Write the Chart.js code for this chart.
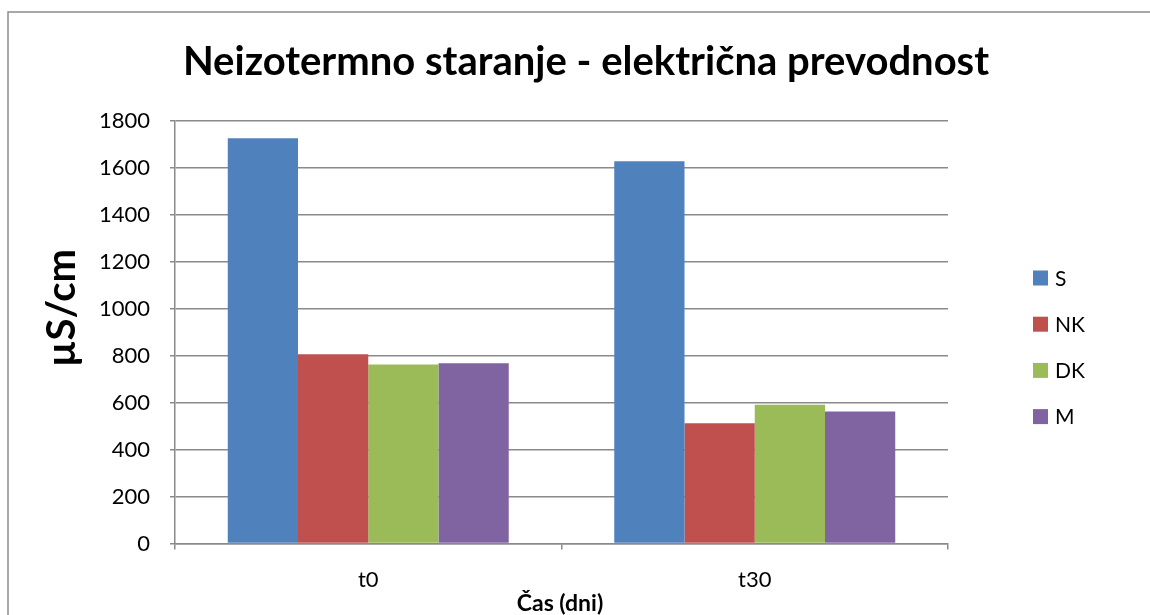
<!DOCTYPE html>
<html>
<head>
<meta charset="utf-8">
<title>Neizotermno staranje - električna prevodnost</title>
<script src="https://cdn.jsdelivr.net/npm/chart.js@4.4.1/dist/chart.umd.min.js"></script>
<style>
  html, body { margin: 0; padding: 0; background: #ffffff; overflow: hidden; }
  canvas { display: block; }
</style>
</head>
<body>
<canvas id="chart" width="1150" height="615"></canvas>
<script>
// Categories (time points) and measured conductivity per sample type
const categories = ['t0', 't30'];
const seriesNames = ['S', 'NK', 'DK', 'M'];
const valuesS  = [1726, 1628];
const valuesNK = [806, 512];
const valuesDK = [763, 591];
const valuesM  = [768, 562];
const seriesColors = ['#4F81BD', '#C0504D', '#9BBB59', '#8064A2'];
const yMin = 0, yMax = 1800, yStep = 200;

const chartTitle = 'Neizotermno staranje - električna prevodnost';
const yTitle = 'µS/cm';
const xTitle = 'Čas (dni)';

const FONT = 'Lato, "Open Sans", sans-serif';
const GRID = '#8a8a8a';

Chart.defaults.font.family = FONT;
Chart.defaults.color = '#000000';

const seriesValues = [valuesS, valuesNK, valuesDK, valuesM];
const datasets = seriesNames.map((name, i) => ({
  label: name,
  data: seriesValues[i],
  backgroundColor: seriesColors[i],
  borderWidth: 0,
  barPercentage: 1.0,
  categoryPercentage: 0.727
}));

// Outer frame of the chart
const framePlugin = {
  id: 'frame',
  beforeDraw(chart) {
    const ctx = chart.ctx;
    ctx.save();
    ctx.fillStyle = '#ffffff';
    ctx.fillRect(0, 0, chart.width, chart.height);
    ctx.strokeStyle = '#8c8c8c';
    ctx.lineWidth = 1.5;
    ctx.strokeRect(8, 12, chart.width + 20, chart.height + 20);
    ctx.restore();
  }
};

// Chart title and axis titles
const titlesPlugin = {
  id: 'titles',
  afterDraw(chart) {
    const ctx = chart.ctx;
    ctx.save();
    ctx.fillStyle = '#000000';
    ctx.textAlign = 'center';

    ctx.font = 'bold 40px ' + FONT;
    ctx.textBaseline = 'alphabetic';
    ctx.fillText(chartTitle, 586, 75);

    ctx.font = 'bold 23px ' + FONT;
    ctx.textBaseline = 'middle';
    ctx.fillText(xTitle, 560, 604);

    ctx.translate(62, 308);
    ctx.rotate(-Math.PI / 2);
    ctx.font = 'bold 40px ' + FONT;
    ctx.textBaseline = 'middle';
    ctx.fillText(yTitle, 0, 0);
    ctx.restore();
  }
};

// Legend column on the right, built from the datasets
const legendPlugin = {
  id: 'sideLegend',
  afterDraw(chart) {
    const ctx = chart.ctx;
    const x0 = 1033, yStart = 278, gap = 46.2, box = 15;
    ctx.save();
    ctx.font = '21px ' + FONT;
    ctx.textAlign = 'left';
    ctx.textBaseline = 'middle';
    chart.data.datasets.forEach((ds, i) => {
      const cy = yStart + i * gap;
      ctx.fillStyle = ds.backgroundColor;
      ctx.fillRect(x0, cy - box / 2, box, box);
      ctx.fillStyle = '#000000';
      ctx.fillText(ds.label, x0 + 22, cy + 1);
    });
    ctx.restore();
  }
};

new Chart(document.getElementById('chart'), {
  type: 'bar',
  data: { labels: categories, datasets },
  options: {
    responsive: false,
    animation: false,
    layout: { padding: { left: 0, right: 202, top: 121, bottom: 0 } },
    plugins: {
      legend: { display: false },
      tooltip: { enabled: false },
      title: { display: false }
    },
    scales: {
      x: {
        grid: {
          display: true,
          drawOnChartArea: false,
          drawTicks: true,
          tickLength: 6,
          color: GRID,
          lineWidth: 1.5,
          offset: true
        },
        border: { display: true, color: GRID, width: 1.5 },
        ticks: { font: { size: 22 }, color: '#000000', padding: 17 },
        afterFit(scale) { scale.height = 71.5; }
      },
      y: {
        min: yMin,
        max: yMax,
        ticks: {
          stepSize: yStep,
          font: { size: 22 },
          color: '#000000',
          padding: 20,
          callback: (v) => String(v)
        },
        grid: { color: GRID, lineWidth: 1.5, tickLength: 5, drawTicks: true },
        border: { display: true, color: GRID, width: 1.5 },
        afterFit(scale) { scale.width = 175; }
      }
    }
  },
  plugins: [framePlugin, titlesPlugin, legendPlugin]
});
</script>
</body>
</html>
